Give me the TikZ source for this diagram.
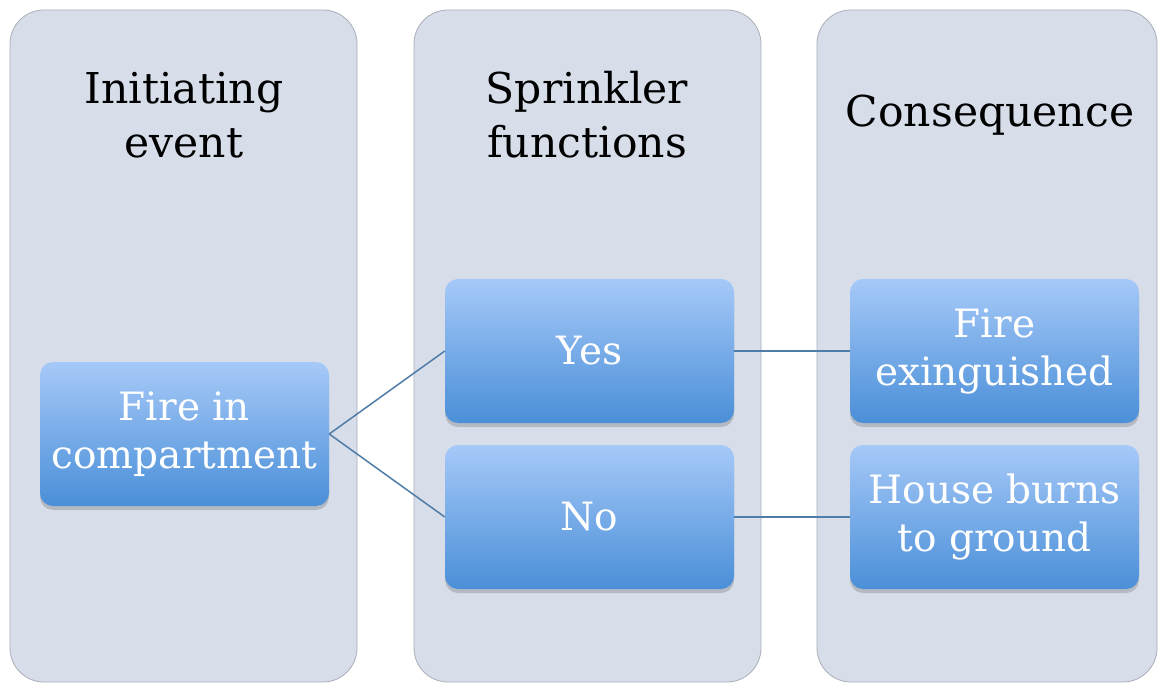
\documentclass[tikz,border=0pt]{standalone}
\usepackage{fontspec}
\setmainfont{DejaVu Serif}
\usetikzlibrary{shadows}
\definecolor{colfill}{HTML}{D7DEEA}
\definecolor{coledge}{HTML}{A9AEB8}
\definecolor{boxtop}{HTML}{A6C9F8}
\definecolor{boxbot}{HTML}{4A8FD8}
\definecolor{linkcol}{HTML}{507CA8}
\tikzset{
  column/.style={draw=coledge, line width=0.8pt, fill=colfill, rounded corners=34pt},
  header/.style={align=center, text=black, font=\fontsize{42.5}{54}\selectfont},
  item/.style={rectangle, rounded corners=13pt, minimum width=289pt, minimum height=144pt,
    top color=boxtop, bottom color=boxbot, draw=none, align=center, text=white,
    font=\fontsize{39}{48}\selectfont,
    drop shadow={shadow xshift=0pt, shadow yshift=-4pt, opacity=0.3, fill=black!60}},
  link/.style={draw=linkcol, line width=1.5pt}
}
\begin{document}
\begin{tikzpicture}[x=1pt, y=-1pt]
  \useasboundingbox (0,0) rectangle (1158,684);
  \fill[white] (0,0) rectangle (1158,684);
  % three columns
  \draw[column] (10,10) rectangle (357,682);
  \draw[column] (414,10) rectangle (761,682);
  \draw[column] (817,10) rectangle (1157,682);
  % column headers
  \node[header] (h1) at (184,115) {Initiating\\event};
  \node[header] (h2) at (587,115) {Sprinkler\\functions};
  \node[header] (h3) at (990,115) {Consequence};
  % event tree boxes
  \node[item] (init) at (184.5,434) {Fire in\\compartment};
  \node[item] (yes) at (589.5,351) {Yes};
  \node[item] (no) at (589.5,517) {No};
  \node[item] (ext) at (994.5,351) {Fire\\exinguished};
  \node[item] (burn) at (994.5,517) {House burns\\to ground};
  % connectors
  \draw[link] (init.east) -- (yes.west);
  \draw[link] (init.east) -- (no.west);
  \draw[link] (yes.east) -- (ext.west);
  \draw[link] (no.east) -- (burn.west);
\end{tikzpicture}
\end{document}
